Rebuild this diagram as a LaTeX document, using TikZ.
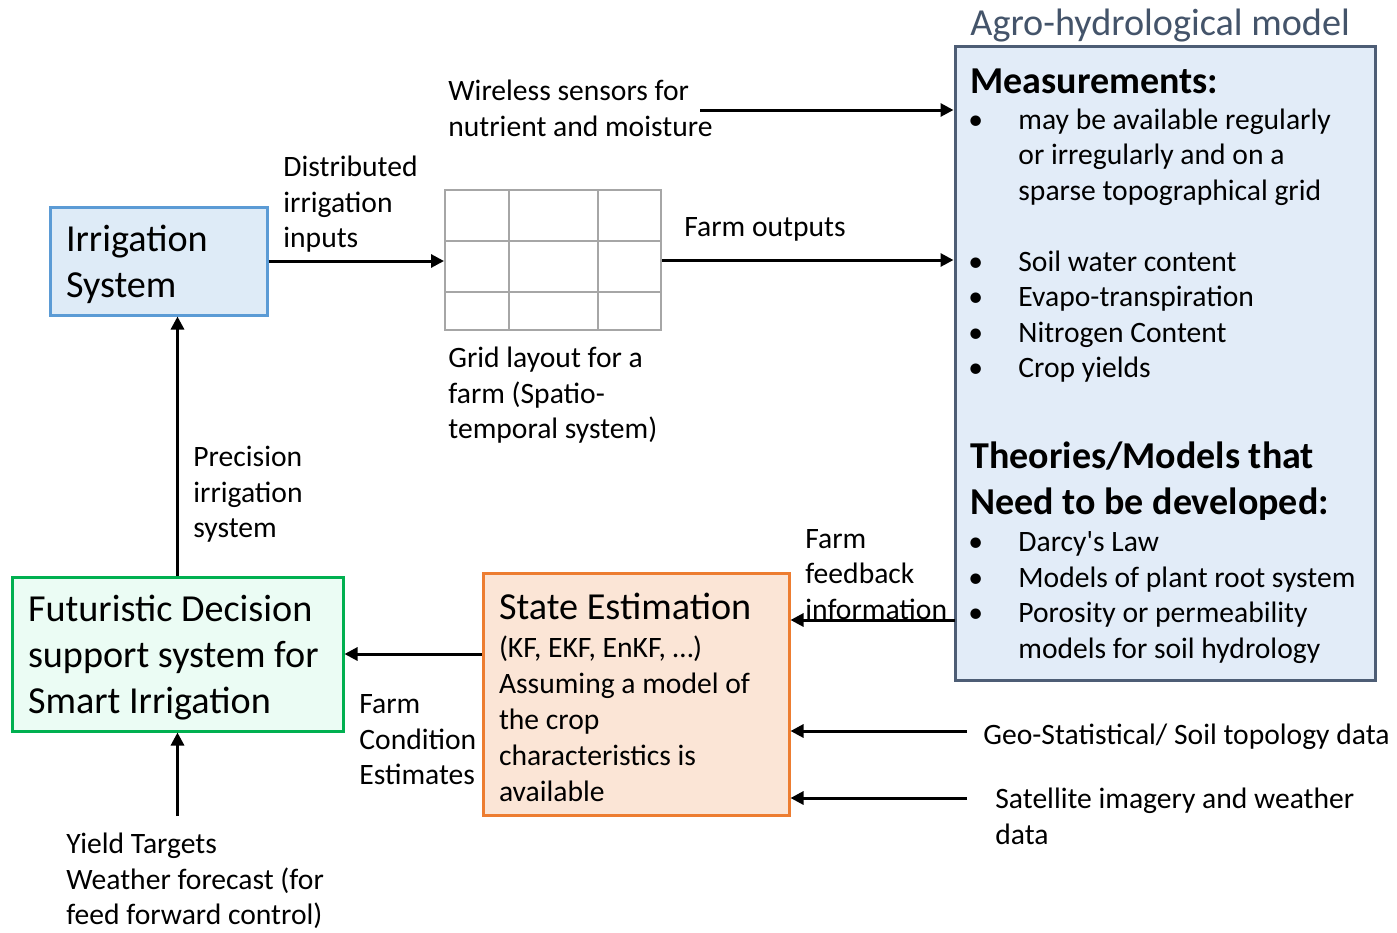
\documentclass[tikz,border=0pt]{standalone}
\usepackage{fontspec}
\setmainfont{Carlito}
\usetikzlibrary{arrows.meta}

\definecolor{irrfill}{HTML}{DEEBF7}
\definecolor{irredge}{HTML}{5B9BD5}
\definecolor{agrofill}{HTML}{E2ECF8}
\definecolor{agroedge}{HTML}{4D5D75}
\definecolor{slate}{HTML}{44546A}
\definecolor{estfill}{HTML}{FBE5D6}
\definecolor{estedge}{HTML}{ED7D31}
\definecolor{dssfill}{HTML}{EBFCF4}
\definecolor{dssedge}{HTML}{00B050}
\definecolor{gridgray}{HTML}{A6A6A6}

\newcommand{\bigtext}{\fontsize{19.1}{23}\selectfont}
\newcommand{\bul}{\textbullet}

\begin{document}
\begin{tikzpicture}[
    x=0.5pt, y=-0.5pt,
    every node/.style={font=\fontsize{14.8}{17.75}\selectfont},
    txt/.style={anchor=west, inner sep=0pt, align=left},
    boxed/.style={rectangle, line width=1.5pt, inner xsep=8pt, align=flush left, font=\bigtext,
                  execute at begin node={\rule{0pt}{17pt}}},
    irrbox/.style={boxed, draw=irredge, fill=irrfill},
    dssbox/.style={boxed, draw=dssedge, fill=dssfill},
    estbox/.style={boxed, draw=estedge, fill=estfill, font=\fontsize{14.8}{18}\selectfont},
    agrobox/.style={rectangle, line width=1.5pt, draw=agroedge, fill=agrofill},
    gridline/.style={draw=gridgray, line width=1pt},
    arr/.style={-{Triangle[length=6.5pt, width=6.5pt]}, line width=1.5pt, black},
]
\useasboundingbox (0,0) rectangle (1397,932);

% boxes
\node[irrbox, minimum width=108.5pt, minimum height=54pt, text width=92.5pt] (irr) at (158.5,261) {Irrigation\\System};
\node[dssbox, minimum width=165.5pt, minimum height=77pt, text width=149.5pt] (dss) at (177.5,654) {Futuristic Decision\\support system for\\Smart Irrigation};
\node[estbox, minimum width=153pt, minimum height=121pt, text width=137pt] (est) at (636,694) {{\bigtext State Estimation}\\[1pt](KF, EKF, EnKF, \dots)\\Assuming a model of\\the crop\\characteristics is\\available};
\node[agrobox, minimum width=210pt, minimum height=317pt] (agro) at (1165,363) {};

% farm grid
\node[gridline, rectangle, minimum width=108pt, minimum height=70pt] (grid) at (553,260) {};
\draw[gridline] (509,190) -- (509,330);
\draw[gridline] (598,190) -- (598,330);
\draw[gridline] (445,241) -- (661,241);
\draw[gridline] (445,292) -- (661,292);

% model contents
\node[txt, text=slate, font=\fontsize{19.1}{23}\selectfont] (agrotitle) at (970,26) {Agro-hydrological model};
\node[txt, font=\bfseries\fontsize{19}{23}\selectfont] (meastitle) at (970,81) {Measurements:};
\node[txt] (measlist) at (968,246.5) {\begin{tabular}{@{}p{25pt}@{}l@{}}
\bul & may be available regularly\\
     & or irregularly and on a\\
     & sparse topographical grid\\
     & \\
\bul & Soil water content\\
\bul & Evapo-transpiration\\
\bul & Nitrogen Content\\
\bul & Crop yields
\end{tabular}};
\node[txt, font=\bfseries\fontsize{19}{23}\selectfont] (theotitle) at (970,481) {Theories/Models that\\Need to be developed:};
\node[txt] (theolist) at (968,598) {\begin{tabular}{@{}p{25pt}@{}l@{}}
\bul & Darcy\textquotesingle s Law\\
\bul & Models of plant root system\\
\bul & Porosity or permeability\\
     & models for soil hydrology
\end{tabular}};

% labels
\node[txt] (distr) at (283,204.5) {Distributed\\irrigation\\inputs};
\node[txt] (wireless) at (448,108.5) {Wireless sensors for\\nutrient and moisture};
\node[txt] (farmout) at (684,229) {Farm outputs};
\node[txt] (gridlbl) at (448,395.5) {Grid layout for a\\farm (Spatio-\\temporal system)};
\node[txt] (precis) at (193,494.5) {Precision\\irrigation\\system};
\node[txt] (cond) at (359,740) {Farm\\Condition\\Estimates};
\node[txt] (yieldlbl) at (66,881) {Yield Targets\\Weather forecast (for\\feed forward control)};
\node[txt] (fblbl) at (805,574.5) {Farm\\feedback\\information};
\node[txt] (geolbl) at (983,737) {Geo-Statistical/ Soil topology data};
\node[txt] (satlbl) at (995,816.5) {Satellite imagery and weather\\data};

% free ends
\coordinate (wsend) at (700,110);
\coordinate (fb) at (955,620);
\coordinate (geo) at (967,731);
\coordinate (sat) at (967,798);
\coordinate (yield) at (177.5,816);

% connectors
\draw[arr] (irr.east) -- (irr.east -| grid.west);
\draw[arr] (wsend) -- (wsend -| agro.west);
\draw[arr] (grid.east) -- (grid.east -| agro.west);
\draw[arr] (fb) -- (fb -| est.east);
\draw[arr] (geo) -- (geo -| est.east);
\draw[arr] (sat) -- (sat -| est.east);
\draw[arr] (est.west |- dss.east) -- (dss.east);
\draw[arr] (dss.north) -- (dss.north |- irr.south);
\draw[arr] (yield) -- (dss.south);
\end{tikzpicture}
\end{document}
